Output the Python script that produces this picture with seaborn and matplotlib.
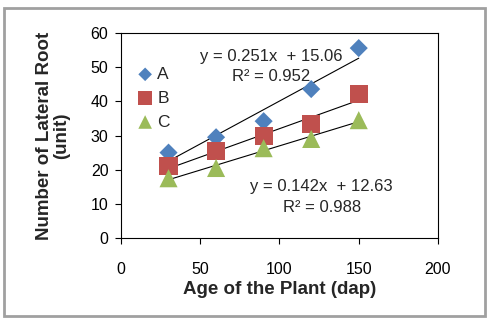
import matplotlib
matplotlib.use("Agg")
import matplotlib.pyplot as plt
import seaborn as sns
import pandas as pd
from matplotlib.patches import Rectangle

age = [30, 60, 90, 120, 150]
series_names = ["A", "B", "C"]
vals_A = [25.0, 29.5, 34.2, 43.6, 55.6]
vals_B = [21.0, 25.5, 29.8, 33.3, 42.1]
vals_C = [17.5, 20.5, 26.3, 29.0, 34.5]
eq_A = ["y = 0.251x  + 15.06", "R² = 0.952"]
eq_C = ["y = 0.142x  + 12.63", "R² = 0.988"]
xticks = [0, 50, 100, 150, 200]
yticks = [0, 10, 20, 30, 40, 50, 60]

df = pd.DataFrame({
    "age": age * 3,
    "val": vals_A + vals_B + vals_C,
    "series": sum([[s] * len(age) for s in series_names], []),
})

sns.set_theme(style="white")
plt.rcParams['font.family'] = ['Liberation Sans', 'DejaVu Sans']

fig = plt.figure(figsize=(4.89, 3.24), dpi=100)
ax = fig.add_axes([0.2474, 0.2654, 0.6483, 0.6326])

colors = {"A": "#4F81BD", "B": "#C0504D", "C": "#9BBB59"}
markers = {"A": "D", "B": "s", "C": "^"}
sizes = {"A": 85, "B": 170, "C": 170}

for s in series_names:
    sub = df[df.series == s]
    sns.regplot(data=sub, x="age", y="val", ax=ax, scatter=False, ci=None,
                truncate=True, line_kws=dict(color="black", lw=0.8))
for s in series_names:
    sub = df[df.series == s]
    sns.scatterplot(data=sub, x="age", y="val", ax=ax, marker=markers[s],
                    s=sizes[s], color=colors[s], edgecolor="none", label=s,
                    zorder=3)

ax.set_xlim(0, 200)
ax.set_ylim(0, 60)
ax.set_xticks(xticks)
ax.set_yticks(yticks)
ax.tick_params(axis="both", labelsize=11.5, colors="black", direction="out",
               length=4, width=0.8, bottom=True, left=True)
ax.tick_params(axis="x", pad=13)
ax.tick_params(axis="y", pad=5)
for sp in ax.spines.values():
    sp.set_color("black")
    sp.set_linewidth(0.8)

ax.set_xlabel("Age of the Plant (dap)", fontsize=13.5, fontweight="bold", labelpad=3)
ax.set_ylabel("Number of Lateral Root\n(unit)", fontsize=13.5, fontweight="bold",
              labelpad=15, linespacing=0.95)

leg = ax.legend(loc="upper left", bbox_to_anchor=(0.005, 0.895), frameon=False,
                fontsize=12.5, handletextpad=0.1, borderpad=0.2,
                labelspacing=0.5, handlelength=1.2, markerscale=0.75)

fs = 12
ax.text(0.473, 0.884, eq_A[0], transform=ax.transAxes, ha="center", va="center", fontsize=fs)
ax.text(0.473, 0.787, eq_A[1], transform=ax.transAxes, ha="center", va="center", fontsize=fs)
ax.text(0.633, 0.250, eq_C[0], transform=ax.transAxes, ha="center", va="center", fontsize=fs)
ax.text(0.633, 0.148, eq_C[1], transform=ax.transAxes, ha="center", va="center", fontsize=fs)

fig.patches.append(Rectangle((0.008, 0.025), 0.984, 0.95, transform=fig.transFigure,
                             fill=False, edgecolor="#A0A0A0", lw=2.0))

fig.savefig("out.png", dpi=100)
